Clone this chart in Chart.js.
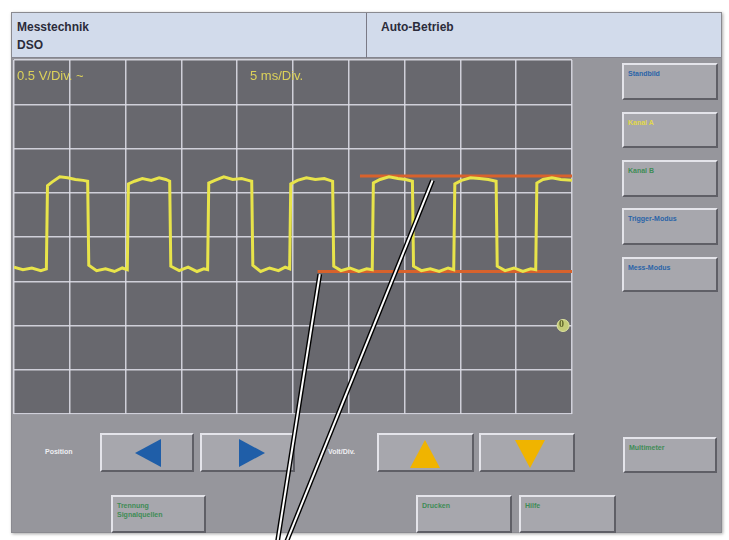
<!DOCTYPE html>
<html>
<head>
<meta charset="utf-8">
<script src="https://cdn.jsdelivr.net/npm/chart.js@4.4.1/dist/chart.umd.min.js"></script>
<style>
  html, body { margin: 0; padding: 0; background: #fff; }
  #screen { position: relative; width: 729px; height: 540px; overflow: hidden;
            font-family: "Liberation Sans", Arial, sans-serif; }
  .abs { position: absolute; }
  .frame { left: 11px; top: 12px; width: 709px; height: 519px; background: #96969c;
           border: 1px solid #8a8a90; box-shadow: 1px 1px 3px rgba(0,0,0,0.35); }
  .header { left: 12px; top: 13px; width: 709px; height: 44px; background: #d2dbeb;
            border-bottom: 1px solid #85858f; }
  .divider { left: 366px; top: 13px; width: 1px; height: 45px; background: #7a7a86; }
  .htext { font-weight: bold; font-size: 12px; color: #2b2b3a; }
  .scope { left: 14px; top: 60px; width: 558px; height: 355px; background: #68686e; }
  .stext { font-size: 13px; color: #dcd25a; z-index: 10; }
  .btn { background: #a7a7ad; box-sizing: border-box;
         border-top: 2px solid #e4e4ea; border-left: 2px solid #e4e4ea;
         border-right: 2px solid #5f5f66; border-bottom: 2px solid #5f5f66;
         font-weight: bold; font-size: 7px; padding: 4px 0 0 4px; line-height: 9px; }
  .blue { color: #2a64a8; }
  .yellow { color: #e2d84a; }
  .green { color: #3f8c56; }
  .label { font-weight: bold; font-size: 7px; color: #eeeef2; }
  .tri { width: 0; height: 0; }
  #c { position: absolute; left: 0; top: 0; z-index: 5; pointer-events: none; }
</style>
</head>
<body>
<div id="screen">
  <div class="abs frame"></div>
  <div class="abs header"></div>
  <div class="abs divider"></div>
  <div class="abs htext" style="left:17px;top:20px;">Messtechnik</div>
  <div class="abs htext" style="left:17px;top:38px;">DSO</div>
  <div class="abs htext" style="left:381px;top:20px;">Auto-Betrieb</div>

  <div class="abs scope"></div>
  <div class="abs stext" style="left:17px;top:68px;">0.5 V/Div. ~</div>
  <div class="abs stext" style="left:250px;top:68px;">5 ms/Div.</div>

  <!-- right side buttons -->
  <div class="abs btn blue" style="left:622px;top:63px;width:96px;height:37px;">Standbild</div>
  <div class="abs btn yellow" style="left:622px;top:112px;width:96px;height:36px;">Kanal A</div>
  <div class="abs btn green" style="left:622px;top:160px;width:96px;height:37px;">Kanal B</div>
  <div class="abs btn blue" style="left:622px;top:208px;width:96px;height:37px;">Trigger-Modus</div>
  <div class="abs btn blue" style="left:622px;top:257px;width:96px;height:35px;">Mess-Modus</div>

  <!-- bottom controls -->
  <div class="abs label" style="left:45px;top:448px;">Position</div>
  <div class="abs btn" style="left:100px;top:433px;width:94px;height:39px;"></div>
  <div class="abs btn" style="left:200px;top:433px;width:95px;height:39px;"></div>
  <div class="abs tri" style="left:135px;top:439px;border-top:14px solid transparent;border-bottom:14px solid transparent;border-right:26px solid #1f5ea8;"></div>
  <div class="abs tri" style="left:239px;top:439px;border-top:14px solid transparent;border-bottom:14px solid transparent;border-left:26px solid #1f5ea8;"></div>

  <div class="abs label" style="left:328px;top:448px;">Volt/Div.</div>
  <div class="abs btn" style="left:377px;top:433px;width:97px;height:39px;"></div>
  <div class="abs btn" style="left:479px;top:433px;width:96px;height:39px;"></div>
  <div class="abs tri" style="left:410px;top:440px;border-left:15px solid transparent;border-right:15px solid transparent;border-bottom:28px solid #f0b400;"></div>
  <div class="abs tri" style="left:515px;top:440px;border-left:15px solid transparent;border-right:15px solid transparent;border-top:28px solid #f0b400;"></div>

  <div class="abs btn green" style="left:623px;top:437px;width:94px;height:36px;">Multimeter</div>
  <div class="abs btn green" style="left:111px;top:495px;width:95px;height:38px;">Trennung<br>Signalquellen</div>
  <div class="abs btn green" style="left:416px;top:495px;width:96px;height:38px;">Drucken</div>
  <div class="abs btn green" style="left:519px;top:495px;width:97px;height:38px;">Hilfe</div>

  <canvas id="c" width="729" height="540"></canvas>
</div>

<script>
// scope settings: 10 div x 5 ms, 8 div x 0.5 V, ground marker two divisions above the bottom
const timeTicks = [0, 5, 10, 15, 20, 25, 30, 35, 40, 45, 50];
const voltTicks = [-1, -0.5, 0, 0.5, 1, 1.5, 2, 2.5, 3];

// channel A trace (ms / V)
const sigTime = [0, 0.8, 1.6, 2.4, 2.9,
  3.0, 3.4, 4.1, 4.8, 5.5, 6.2, 6.6,
  6.7, 7.4, 8.2, 9.0, 9.7, 10.15,
  10.25, 10.8, 11.5, 12.3, 13.0, 13.6, 13.95,
  14.05, 14.8, 15.6, 16.4, 17.0, 17.35,
  17.45, 18.0, 18.8, 19.6, 20.4, 21.0, 21.3,
  21.4, 22.1, 22.9, 23.7, 24.3, 24.7,
  24.8, 25.4, 26.2, 27.0, 27.8, 28.3, 28.55,
  28.65, 29.3, 30.1, 30.9, 31.6, 32.1,
  32.2, 32.8, 33.6, 34.4, 35.1, 35.7,
  35.8, 36.5, 37.3, 38.1, 38.9, 39.4,
  39.5, 40.1, 40.9, 41.7, 42.5, 43.2,
  43.3, 44.0, 44.8, 45.6, 46.3, 46.75,
  46.85, 47.4, 48.2, 49.0, 50];
const sigVolt = [0.66, 0.63, 0.65, 0.62, 0.64,
  1.58, 1.62, 1.68, 1.67, 1.65, 1.64, 1.63,
  0.68, 0.62, 0.64, 0.61, 0.65, 0.63,
  1.60, 1.63, 1.66, 1.64, 1.67, 1.65, 1.63,
  0.67, 0.62, 0.66, 0.61, 0.64, 0.63,
  1.61, 1.64, 1.68, 1.65, 1.66, 1.64, 1.63,
  0.68, 0.61, 0.65, 0.62, 0.66, 0.64,
  1.60, 1.64, 1.67, 1.65, 1.66, 1.64, 1.63,
  0.67, 0.62, 0.65, 0.61, 0.64, 0.63,
  1.61, 1.65, 1.68, 1.66, 1.65, 1.63,
  0.67, 0.62, 0.64, 0.61, 0.65, 0.63,
  1.60, 1.64, 1.67, 1.66, 1.65, 1.63,
  0.67, 0.62, 0.65, 0.61, 0.64, 0.63,
  1.61, 1.65, 1.67, 1.65, 1.64];

// measuring cursors (orange)
const cursorHighTime = [31.0, 50];
const cursorHighVolt = [1.69, 1.69];
const cursorLowTime = [27.2, 50];
const cursorLowVolt = [0.61, 0.61];

// ground marker "0"
const zeroTime = [49.2];
const zeroVolt = [0];

// leader lines of the figure callout, running off the bottom of the picture
const leaderATime = [37.5, 24.4];
const leaderAVolt = [1.64, -2.45];
const leaderBTime = [27.4, 23.6];
const leaderBVolt = [0.58, -2.45];

const pts = (xs, ys) => xs.map((x, i) => ({ x, y: ys[i] }));

const leader = (xs, ys, color, width, order) => ({
  data: pts(xs, ys),
  borderColor: color,
  borderWidth: width,
  pointRadius: 0,
  tension: 0,
  clip: false,
  order,
});

new Chart(document.getElementById("c"), {
  type: "line",
  data: {
    datasets: [
      leader(leaderATime, leaderAVolt, "#ffffff", 2, 0),
      leader(leaderBTime, leaderBVolt, "#ffffff", 2, 0),
      leader(leaderATime, leaderAVolt, "#000000", 4.8, 1),
      leader(leaderBTime, leaderBVolt, "#000000", 4.8, 1),
      {
        data: pts(zeroTime, zeroVolt),
        showLine: false,
        pointRadius: 6,
        pointBackgroundColor: "#c4cc78",
        pointBorderColor: "#dfe5a0",
        pointBorderWidth: 1,
        clip: false,
        order: 2,
      },
      {
        data: pts(sigTime, sigVolt),
        borderColor: "#e8e44a",
        borderWidth: 3,
        pointRadius: 0,
        tension: 0,
        order: 3,
      },
      {
        data: pts(cursorHighTime, cursorHighVolt),
        borderColor: "#d8622c",
        borderWidth: 3,
        pointRadius: 0,
        order: 4,
      },
      {
        data: pts(cursorLowTime, cursorLowVolt),
        borderColor: "#d8622c",
        borderWidth: 3,
        pointRadius: 0,
        order: 4,
      },
    ],
  },
  options: {
    responsive: false,
    animation: false,
    devicePixelRatio: 1,
    layout: { padding: { left: 14, top: 60, right: 157, bottom: 126 } },
    plugins: { legend: { display: false }, tooltip: { enabled: false } },
    scales: {
      x: {
        type: "linear",
        min: timeTicks[0],
        max: timeTicks[timeTicks.length - 1],
        afterBuildTicks: (s) => { s.ticks = timeTicks.map(v => ({ value: v })); },
        ticks: { display: false },
        grid: { color: "rgba(218,218,228,0.9)", lineWidth: 1.5, drawTicks: false },
        border: { display: false },
      },
      y: {
        min: voltTicks[0],
        max: voltTicks[voltTicks.length - 1],
        afterBuildTicks: (s) => { s.ticks = voltTicks.map(v => ({ value: v })); },
        ticks: { display: false },
        grid: { color: "rgba(218,218,228,0.9)", lineWidth: 1.5, drawTicks: false },
        border: { display: false },
      },
    },
  },
});
</script>
<div class="abs" style="position:absolute;left:559px;top:318px;font-size:10px;font-weight:bold;color:#60662a;z-index:10;">0</div>
</body>
</html>
